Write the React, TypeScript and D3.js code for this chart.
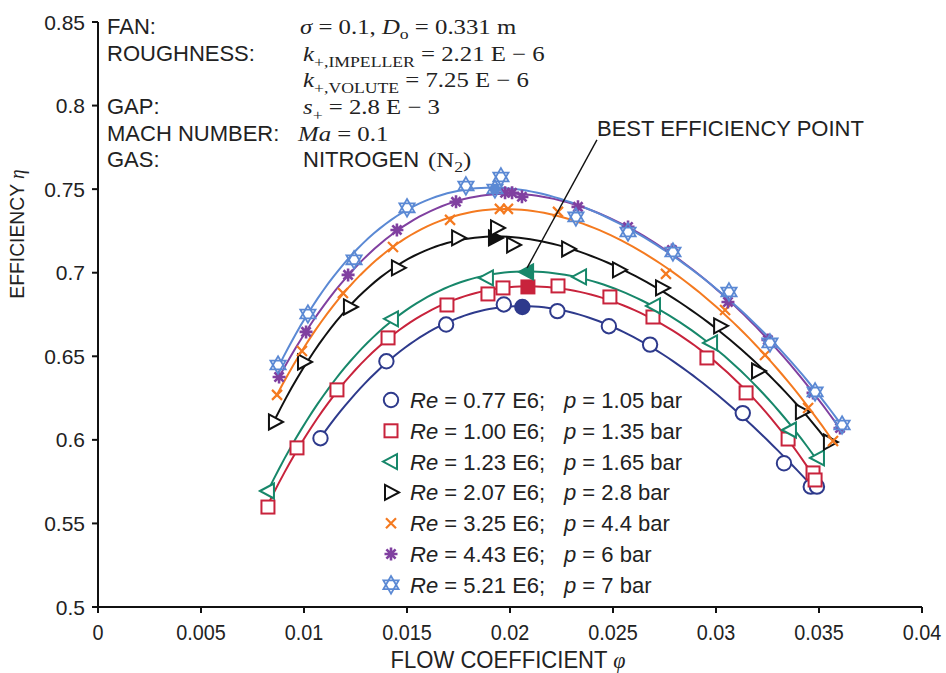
import React from "react";
import * as d3 from "d3";

// ---------- DATA ----------
const xTicks = [0, 0.005, 0.01, 0.015, 0.02, 0.025, 0.03, 0.035, 0.04];
const xTickLabels = ["0", "0.005", "0.01", "0.015", "0.02", "0.025", "0.03", "0.035", "0.04"];
const yTicks = [0.5, 0.55, 0.6, 0.65, 0.7, 0.75, 0.8, 0.85];
const yTickLabels = ["0.5", "0.55", "0.6", "0.65", "0.7", "0.75", "0.8", "0.85"];

const re077Phi = [0.0108, 0.0140, 0.0169, 0.0197, 0.0206, 0.0223, 0.0248, 0.0268, 0.0313, 0.0333, 0.0346, 0.0349];
const re077Eta = [0.601, 0.647, 0.669, 0.681, 0.6795, 0.677, 0.668, 0.657, 0.616, 0.586, 0.572, 0.572];

const re100Phi = [0.00825, 0.00966, 0.0116, 0.01408, 0.01694, 0.01893, 0.01966, 0.02087, 0.02233, 0.02485, 0.02694, 0.02956, 0.03146, 0.0335, 0.03471, 0.03481];
const re100Eta = [0.5598, 0.5952, 0.6299, 0.661, 0.6807, 0.6873, 0.6909, 0.6915, 0.6921, 0.6855, 0.6735, 0.649, 0.6281, 0.6005, 0.5802, 0.576];

const re123Phi = [0.00825, 0.01427, 0.01888, 0.02083, 0.0234, 0.02699, 0.02976, 0.03359, 0.03495];
const re123Eta = [0.5694, 0.6724, 0.6969, 0.7005, 0.6975, 0.6801, 0.658, 0.6059, 0.5892];

const re207Phi = [0.00859, 0.0100, 0.01223, 0.01456, 0.01748, 0.01927, 0.01937, 0.02015, 0.02282, 0.02529, 0.02738, 0.0302, 0.03204, 0.03417, 0.03553];
const re207Eta = [0.6107, 0.6466, 0.6795, 0.7029, 0.7208, 0.7208, 0.7268, 0.7166, 0.7142, 0.7017, 0.6909, 0.6682, 0.6412, 0.6167, 0.5987];

const re325Phi = [0.00869, 0.0099, 0.01189, 0.01432, 0.01709, 0.01951, 0.0199, 0.02233, 0.02757, 0.03044, 0.03238, 0.03447, 0.03568];
const re325Eta = [0.6269, 0.6532, 0.6879, 0.7154, 0.7316, 0.7382, 0.7382, 0.7364, 0.6993, 0.6777, 0.6508, 0.6191, 0.5993];

const re443Phi = [0.00879, 0.0101, 0.01214, 0.01451, 0.01738, 0.01976, 0.0201, 0.02058, 0.0233, 0.02573, 0.02786, 0.03058, 0.03252, 0.03471, 0.03602];
const re443Eta = [0.6376, 0.6646, 0.6987, 0.7256, 0.7424, 0.7478, 0.7478, 0.7454, 0.7394, 0.7274, 0.7136, 0.6825, 0.6598, 0.6281, 0.6071];

const re521Phi = [0.00874, 0.01019, 0.01243, 0.015, 0.01786, 0.01927, 0.01956, 0.0232, 0.02573, 0.02791, 0.03063, 0.03262, 0.03481, 0.03612];
const re521Eta = [0.6448, 0.6753, 0.7077, 0.7388, 0.7519, 0.7501, 0.7573, 0.7334, 0.7244, 0.7124, 0.6885, 0.658, 0.6287, 0.6089];

const bepIndex = [4, 7, 3, 5, 6, 6, 5];
const reLabels = ["0.77 E6;", "1.00 E6;", "1.23 E6;", "2.07 E6;", "3.25 E6;", "4.43 E6;", "5.21 E6;"];
const pLabels = ["1.05 bar", "1.35 bar", "1.65 bar", "2.8 bar", "4.4 bar", "6 bar", "7 bar"];
const shapes = ["circle", "square", "triL", "triR", "cross", "aster", "hexa"];
const colors = ["#2e3a8c", "#c8233c", "#17876a", "#111111", "#f47a20", "#8040a0", "#5b89d4"];

const bepLineStart = [0.02422, 0.7795];
const bepLineEnd = [0.02083, 0.7029];

// ---------- HELPERS ----------
function polyFit(xs: number[], ys: number[], deg: number) {
  const lo = d3.min(xs)!, hi = d3.max(xs)!;
  const mid = (lo + hi) / 2, half = (hi - lo) / 2;
  const n = deg + 1;
  const A: number[][] = Array.from({ length: n }, () => new Array(n + 1).fill(0));
  xs.forEach((xv, k) => {
    const t = (xv - mid) / half;
    const pw: number[] = [];
    for (let i = 0; i < 2 * n; i++) pw.push(Math.pow(t, i));
    for (let i = 0; i < n; i++) {
      for (let j = 0; j < n; j++) A[i][j] += pw[i + j];
      A[i][n] += pw[i] * ys[k];
    }
  });
  for (let c = 0; c < n; c++) {
    let p = c;
    for (let r = c + 1; r < n; r++) if (Math.abs(A[r][c]) > Math.abs(A[p][c])) p = r;
    [A[c], A[p]] = [A[p], A[c]];
    for (let r = 0; r < n; r++) {
      if (r === c) continue;
      const f = A[r][c] / A[c][c];
      for (let j = c; j <= n; j++) A[r][j] -= f * A[c][j];
    }
  }
  const coef = A.map((row, i) => row[n] / row[i]);
  return (xv: number) => {
    const t = (xv - mid) / half;
    let s = 0;
    for (let i = n - 1; i >= 0; i--) s = s * t + coef[i];
    return s;
  };
}

function Marker({ shape, cx, cy, color, filled }: any) {
  const fill = filled ? color : "#fff";
  const sw = 2;
  if (shape === "circle") return <circle cx={cx} cy={cy} r={7.2} fill={fill} stroke={color} strokeWidth={sw} />;
  if (shape === "square") return <rect x={cx - 6.5} y={cy - 6.5} width={13} height={13} fill={fill} stroke={color} strokeWidth={sw} />;
  if (shape === "triL") return <path d={`M${cx - 8},${cy} L${cx + 6},${cy - 7.5} L${cx + 6},${cy + 7.5} Z`} fill={fill} stroke={color} strokeWidth={sw} />;
  if (shape === "triR") return <path d={`M${cx + 8},${cy} L${cx - 6},${cy - 7.5} L${cx - 6},${cy + 7.5} Z`} fill={fill} stroke={color} strokeWidth={sw} />;
  if (shape === "cross") {
    const r = 5;
    return <path d={`M${cx - r},${cy - r} L${cx + r},${cy + r} M${cx - r},${cy + r} L${cx + r},${cy - r}`} stroke={color} strokeWidth={2.2} />;
  }
  if (shape === "aster") {
    const r = 6.5;
    let d = "";
    for (let i = 0; i < 4; i++) {
      const a = (i * Math.PI) / 4;
      d += `M${cx - r * Math.cos(a)},${cy - r * Math.sin(a)} L${cx + r * Math.cos(a)},${cy + r * Math.sin(a)} `;
    }
    return <path d={d} stroke={color} strokeWidth={2.6} />;
  }
  const r = 8.8;
  const tri = (off: number) =>
    [0, 1, 2].map((i) => {
      const a = off + (i * 2 * Math.PI) / 3;
      return `${cx + r * Math.cos(a)},${cy + r * Math.sin(a)}`;
    });
  const up = tri(-Math.PI / 2), dn = tri(Math.PI / 2);
  const hex = d3.range(6).map((i) => {
    const a = (i * Math.PI) / 3;
    return `${cx + (r / Math.sqrt(3)) * Math.cos(a)},${cy + (r / Math.sqrt(3)) * Math.sin(a)}`;
  });
  return (
    <g>
      <polygon points={hex.join(" ")} fill={fill} stroke="none" />
      <polygon points={up.join(" ")} fill="none" stroke={color} strokeWidth={1.8} />
      <polygon points={dn.join(" ")} fill="none" stroke={color} strokeWidth={1.8} />
    </g>
  );
}

// ---------- APP ----------
export default function App() {
  const x = d3.scaleLinear().domain([0, 0.04]).range([98, 922]);
  const y = d3.scaleLinear().domain([0.5, 0.85]).range([607, 22]);

  const seriesPhi = [re077Phi, re100Phi, re123Phi, re207Phi, re325Phi, re443Phi, re521Phi];
  const seriesEta = [re077Eta, re100Eta, re123Eta, re207Eta, re325Eta, re443Eta, re521Eta];

  const line = d3.line<[number, number]>().x((d) => x(d[0])).y((d) => y(d[1]));

  const sans = "'Liberation Sans', Arial, sans-serif";
  const serif = "'Liberation Serif', 'Times New Roman', serif";

  const rowsY = [34, 60.5, 87, 114, 141, 167];
  const sx = 1.18;
  const mt = (xx: number, yy: number) => `translate(${xx},${yy}) scale(${sx},1)`;

  return (
    <svg width={946} height={673} style={{ position: "absolute", left: 0, top: 0, background: "#fff" }} fontFamily={sans}>
      {seriesPhi.map((ph, si) => {
        const f = polyFit(ph, seriesEta[si], 4);
        const lo = d3.min(ph)!, hi = d3.max(ph)!;
        const pts: [number, number][] = d3.range(0, 101).map((k) => {
          const xv = lo + ((hi - lo) * k) / 100;
          return [xv, f(xv)];
        });
        return <path key={"l" + si} d={line(pts)!} fill="none" stroke={colors[si]} strokeWidth={2} />;
      })}
      {seriesPhi.map((ph, si) => (
        <g key={"m" + si}>
          {ph.map((xv, k) => (
            <Marker key={k} shape={shapes[si]} cx={x(xv)} cy={y(seriesEta[si][k])} color={colors[si]} filled={k === bepIndex[si]} />
          ))}
        </g>
      ))}

      {/* axes */}
      <line x1={x(0)} x2={x(0)} y1={y(0.85)} y2={y(0.5)} stroke="#111" strokeWidth={2} />
      <line x1={x(0)} x2={x(0.04)} y1={y(0.5)} y2={y(0.5)} stroke="#111" strokeWidth={2} />
      {yTicks.map((t, i) => (
        <g key={"yt" + i}>
          <line x1={x(0) - 6} x2={x(0)} y1={y(t)} y2={y(t)} stroke="#111" strokeWidth={2} />
          <text x={85} y={y(t)} dy="0.36em" textAnchor="end" fontSize={21} fill="#222">{yTickLabels[i]}</text>
        </g>
      ))}
      {xTicks.map((t, i) => (
        <g key={"xt" + i}>
          <line x1={x(t)} x2={x(t)} y1={y(0.5)} y2={y(0.5) + 6} stroke="#111" strokeWidth={2} />
          <text transform={`translate(${x(t)},${640}) scale(0.9,1)`} textAnchor="middle" fontSize={22} fill="#222">{xTickLabels[i]}</text>
        </g>
      ))}
      <text transform={`translate(508,668) scale(0.92,1)`} textAnchor="middle" fontSize={24} fill="#222">
        FLOW COEFFICIENT <tspan fontFamily={serif} fontStyle="italic">φ</tspan>
      </text>
      <text transform={`translate(24,234) rotate(-90) scale(0.92,1)`} textAnchor="middle" fontSize={21} fill="#222">
        EFFICIENCY <tspan fontFamily={serif} fontStyle="italic">η</tspan>
      </text>

      {/* top-left info */}
      <g fontSize={22} fill="#222">
        <text x={107} y={rowsY[0]}>FAN:</text>
        <text x={107} y={rowsY[1]}>ROUGHNESS:</text>
        <text x={107} y={rowsY[3]}>GAP:</text>
        <text x={107} y={rowsY[4]}>MACH NUMBER:</text>
        <text x={107} y={rowsY[5]}>GAS:</text>
        <text x={303} y={rowsY[5]}>NITROGEN</text>
      </g>
      <g fontSize={21} fill="#222" fontFamily={serif}>
        <text transform={mt(300, rowsY[0])}>
          <tspan fontStyle="italic">σ</tspan> = 0.1, <tspan fontStyle="italic">D</tspan>
          <tspan dy={5} fontSize={15}>o</tspan>
          <tspan dy={-5}> = 0.331 m</tspan>
        </text>
        <text transform={mt(303, rowsY[1])}>
          <tspan fontStyle="italic">k</tspan>
          <tspan dy={6} fontSize={15}>+,IMPELLER</tspan>
          <tspan dy={-6}> = 2.21 E − 6</tspan>
        </text>
        <text transform={mt(303, rowsY[2])}>
          <tspan fontStyle="italic">k</tspan>
          <tspan dy={6} fontSize={15}>+,VOLUTE</tspan>
          <tspan dy={-6}> = 7.25 E − 6</tspan>
        </text>
        <text transform={mt(303, rowsY[3])}>
          <tspan fontStyle="italic">s</tspan>
          <tspan dy={6} fontSize={15}>+</tspan>
          <tspan dy={-6}> = 2.8 E − 3</tspan>
        </text>
        <text transform={mt(298, rowsY[4])}>
          <tspan fontStyle="italic">Ma</tspan> = 0.1
        </text>
        <text transform={mt(428, rowsY[5])}>
          (N<tspan dy={5} fontSize={15}>2</tspan><tspan dy={-5}>)</tspan>
        </text>
      </g>

      {/* best efficiency annotation */}
      <line x1={x(bepLineStart[0])} y1={y(bepLineStart[1])} x2={x(bepLineEnd[0])} y2={y(bepLineEnd[1])} stroke="#111" strokeWidth={1.4} />
      <text x={597} y={136} fontSize={22} fill="#222">BEST EFFICIENCY POINT</text>

      {/* legend */}
      {reLabels.map((lab, i) => {
        const cy = 400 + i * 30.8;
        return (
          <g key={"lg" + i}>
            <Marker shape={shapes[i]} cx={391} cy={cy} color={colors[i]} filled={false} />
            <text x={410} y={cy + 8} fontSize={22} fill="#222">
              <tspan fontStyle="italic">Re</tspan> = {lab}
            </text>
            <text x={564} y={cy + 8} fontSize={22} fill="#222">
              <tspan fontStyle="italic">p</tspan> = {pLabels[i]}
            </text>
          </g>
        );
      })}
    </svg>
  );
}
